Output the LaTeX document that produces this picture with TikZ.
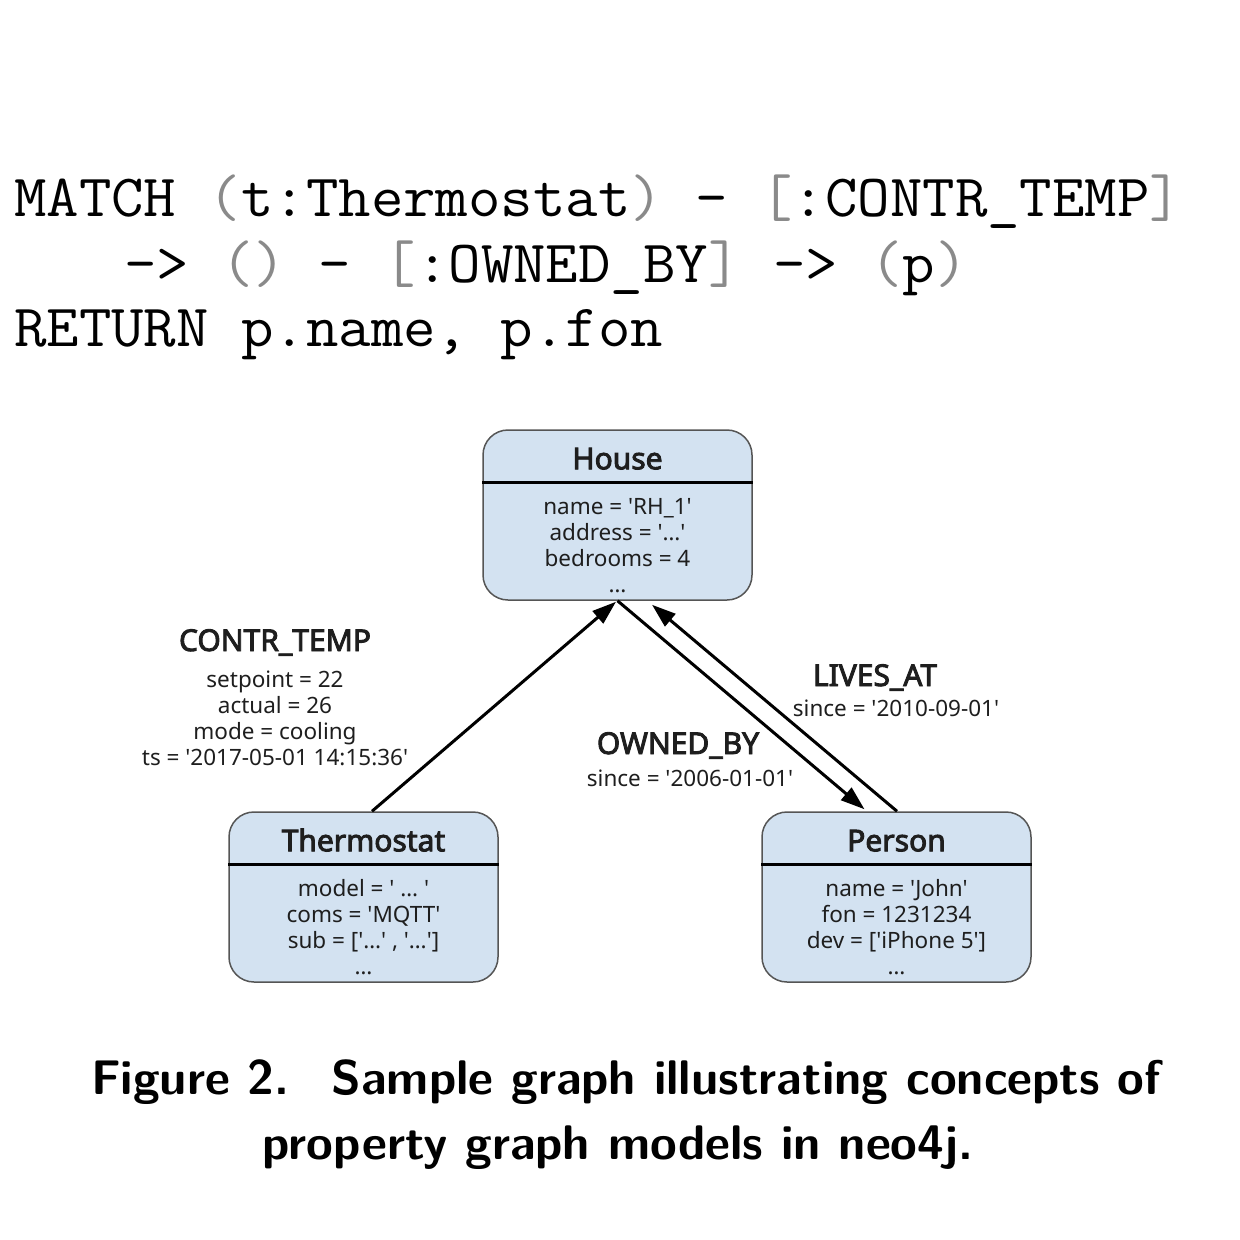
\documentclass[tikz,border=0pt]{standalone}
\usepackage{fontspec}
\newfontfamily\nsans{Noto Sans}
\font\ttlfont="Noto Sans:embolden=3" at 30pt
\usetikzlibrary{arrows.meta,calc}
\definecolor{boxfill}{HTML}{D3E2F1}
\definecolor{boxborder}{HTML}{555555}
\definecolor{txt}{HTML}{1E1E1E}
\definecolor{codegray}{HTML}{8A8A8A}
\newcommand{\gp}[1]{\textcolor{codegray}{#1}}
\newcommand{\codeline}[1]{\scalebox{1.05}[1]{#1}}
\begin{document}
\begin{tikzpicture}[x=1pt,y=-1pt,
  box/.style={draw=boxborder, fill=boxfill, rounded corners=25pt, minimum width=269pt, minimum height=170pt, line width=1.5pt, inner sep=0pt},
  sep/.style={draw=black, line width=3pt},
  ttl/.style={anchor=base, inner sep=0pt, text=txt, font=\ttlfont},
  prop/.style={anchor=base, inner sep=0pt, text=txt, font=\nsans\fontsize{22.5}{26}\selectfont},
  code/.style={anchor=base west, inner sep=0pt, font=\ttfamily\fontsize{60}{66}\selectfont},
  capt/.style={anchor=base, inner sep=0pt, font=\sffamily\bfseries\fontsize{48.6}{63}\selectfont},
  arr/.style={draw=black, line width=3pt, -{Triangle[length=24pt,width=16pt]}}
]
\useasboundingbox (0,0) rectangle (1240,1240);
\fill[white] (0,0) rectangle (1240,1240);

% query
\node[code] (q1) at (14,216) {\codeline{MATCH \gp{(}t:Thermostat\gp{)} - \gp{[}:CONTR\_TEMP\gp{]}}};
\node[code] (q2) at (124,282) {\codeline{-> \gp{()} - \gp{[}:OWNED\_BY\gp{]} -> \gp{(}p\gp{)}}};
\node[code] (q3) at (14,346) {\codeline{RETURN p.name, p.fon}};

% boxes
\node[box] (house) at (617.5,515) {};
\node[box] (therm) at (363.5,897) {};
\node[box] (person) at (896.5,897) {};

\foreach \b in {house,therm,person}{
  \draw[sep] ($(\b.north west)+(0,53)$) -- ($(\b.north east)+(0,53)$);
}

\node[ttl] (houseT) at ($(house.north)+(0,40)$) {House};
\node[ttl] (thermT) at ($(therm.north)+(0,40)$) {Thermostat};
\node[ttl] (personT) at ($(person.north)+(0,40)$) {Person};

\foreach \t [count=\i] in {{name = 'RH\_1'},{address = '…'},{bedrooms = 4},{…}}
  \node[prop] (hp\i) at ($(house.north)+(0,85+26*\i-26)$) {\t};
\foreach \t [count=\i] in {{model = ' … '},{coms = 'MQTT'},{sub = ['…' , '…']},{…}}
  \node[prop] (tp\i) at ($(therm.north)+(0,85+26*\i-26)$) {\t};
\foreach \t [count=\i] in {{name = 'John'},{fon = 1231234},{dev = ['iPhone 5']},{…}}
  \node[prop] (pp\i) at ($(person.north)+(0,85+26*\i-26)$) {\t};

% edge labels
\node[ttl] (ctL) at (275,651) {CONTR\_TEMP};
\foreach \t [count=\i] in {{setpoint = 22},{actual = 26},{mode = cooling},{ts = '2017-05-01 14:15:36'}}
  \node[prop] (cp\i) at (275,687+26.3*\i-26.3) {\t};
\node[ttl] (laL) at (875,686) {LIVES\_AT};
\node[prop] (laP) at (896,716) {since = '2010-09-01'};
\node[ttl] (obL) at (678,754) {OWNED\_BY};
\node[prop] (obP) at (690,786) {since = '2006-01-01'};

% connectors
\draw[arr] ($(therm.north)+(8.5,0)$) -- ($(house.south)+(-1.5,1)$);
\draw[arr] (house.south) -- ($(person.north)+(-32,-2)$);
\draw[arr] ($(person.north)+(0.5,0)$) -- ($(house.south)+(34.5,4)$);

% caption
\node[capt] (c1) at (626,1094) {Figure 2.\enspace\ Sample graph illustrating concepts of};
\node[capt] (c2) at (618,1159) {property graph models in neo4j.};
\end{tikzpicture}
\end{document}
